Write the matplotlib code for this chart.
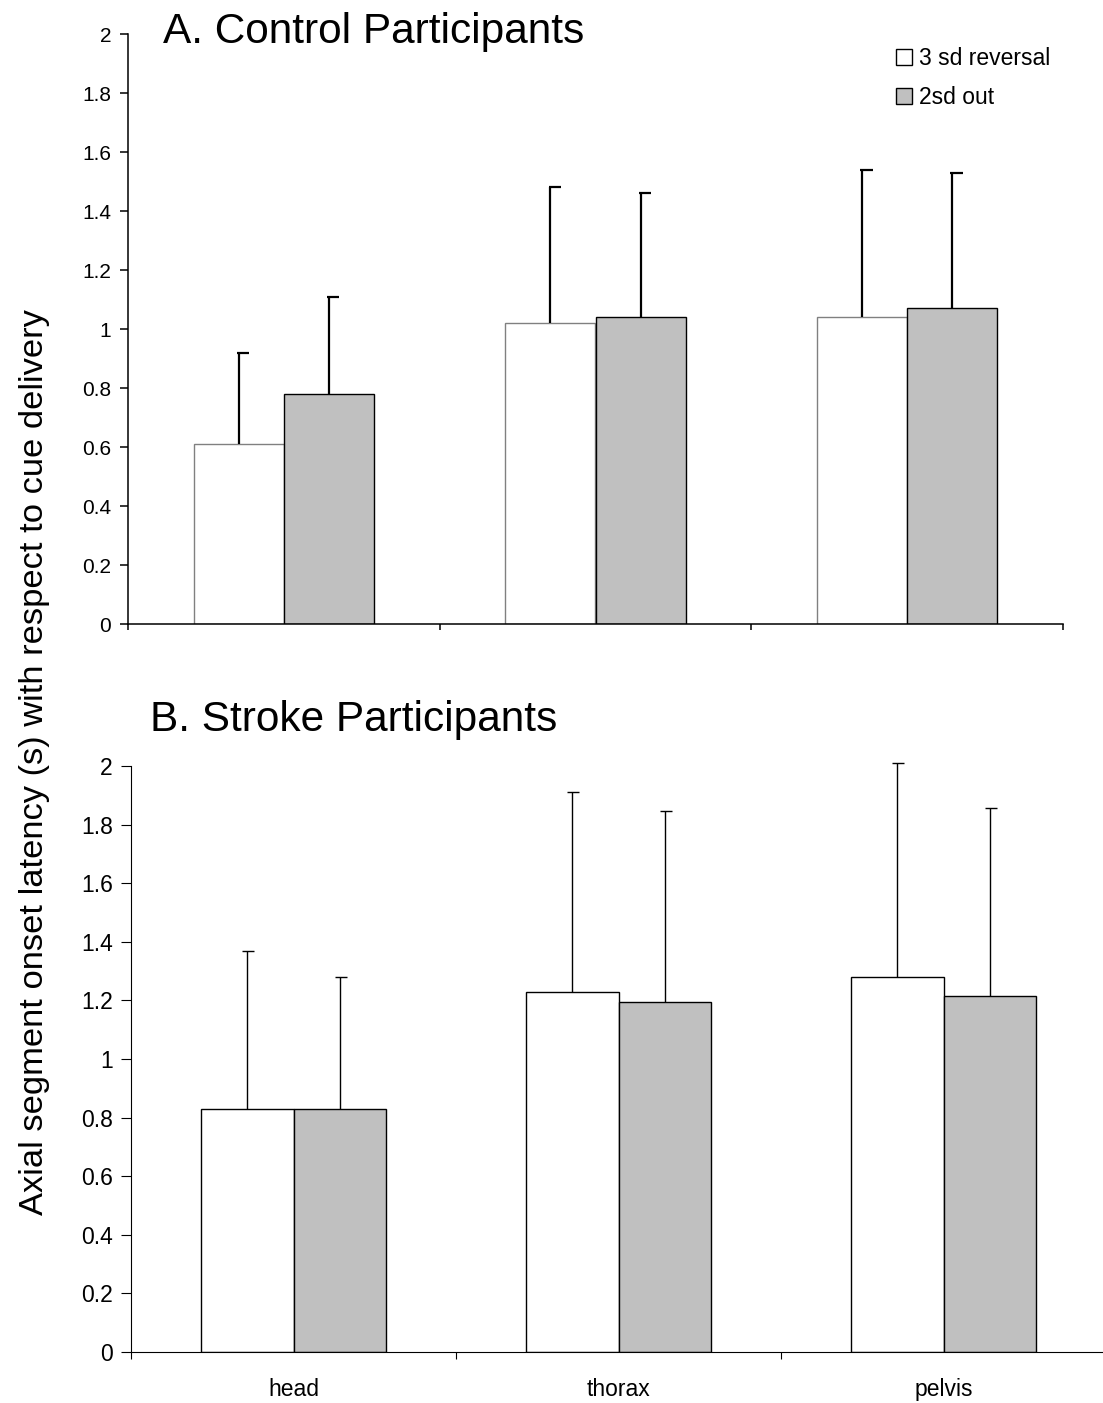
import matplotlib
matplotlib.use("Agg")
import matplotlib.pyplot as plt
from matplotlib.patches import Patch
import numpy as np

plt.rcParams["font.family"] = ["Liberation Sans", "DejaVu Sans"]

SEGMENTS = ["head", "thorax", "pelvis"]
SERIES = ["3 sd reversal", "2sd out"]

# mean onset latency (s) and SD, control group
CTRL_REVERSAL = [0.61, 1.02, 1.04]
CTRL_REVERSAL_SD = [0.31, 0.46, 0.50]
CTRL_OUT = [0.78, 1.04, 1.07]
CTRL_OUT_SD = [0.33, 0.42, 0.46]

# stroke group
STROKE_REVERSAL = [0.83, 1.23, 1.28]
STROKE_REVERSAL_SD = [0.54, 0.68, 0.73]
STROKE_OUT = [0.83, 1.195, 1.215]
STROKE_OUT_SD = [0.45, 0.65, 0.64]

Y_TICKS = [0, 0.2, 0.4, 0.6, 0.8, 1, 1.2, 1.4, 1.6, 1.8, 2]
Y_TICK_LABELS = ["0", "0.2", "0.4", "0.6", "0.8", "1", "1.2", "1.4", "1.6", "1.8", "2"]

WHITE = "white"
GREY = "#c0c0c0"

W, H = 1103, 1403
fig = plt.figure(figsize=(W / 100, H / 100), dpi=100)


def box(x0, x1, y0, y1):
    return [x0 / W, 1 - y1 / H, (x1 - x0) / W, (y1 - y0) / H]


def style_axes(ax, lw, fs, tick_len):
    ax.set_xlim(0, 3)
    ax.set_ylim(0, 2)
    for s in ["top", "right"]:
        ax.spines[s].set_visible(False)
    for s in ["left", "bottom"]:
        ax.spines[s].set_linewidth(lw)
        ax.spines[s].set_clip_on(False)
    ax.set_yticks(Y_TICKS)
    ax.set_yticklabels(Y_TICK_LABELS, fontsize=fs)
    ax.set_xticks([0, 1, 2, 3])
    ax.set_xticklabels([])
    ax.tick_params(axis="both", which="major", width=lw, length=tick_len, pad=6)
    ax.tick_params(axis="x", which="major", length=tick_len * 0.75)
    ax.set_facecolor("none")


def upper_errors(ax, xs, vals, sds, lw, left, right):
    tops = np.array(vals) + np.array(sds)
    ax.vlines(xs, vals, tops, color="black", linewidth=lw, zorder=3, clip_on=False)
    ax.hlines(tops, xs - left, xs + right, color="black", linewidth=lw, zorder=3, clip_on=False)


# ── A. Control participants ──────────────────────────────────────────────
ax1 = fig.add_axes(box(128, 1063, 34, 624))
style_axes(ax1, 1.1, 15, 6)
x = np.arange(3) + 0.5
bw = 0.289
ax1.bar(x - bw / 2, CTRL_REVERSAL, bw, color=WHITE, edgecolor="#808080", linewidth=1.0, zorder=2)
ax1.bar(x + bw / 2, CTRL_OUT, bw, color=GREY, edgecolor="black", linewidth=1.0, zorder=2)
# half caps, drawn to the right of the error line
upper_errors(ax1, x - bw / 2, CTRL_REVERSAL, CTRL_REVERSAL_SD, 1.6, 0.006, 0.034)
upper_errors(ax1, x + bw / 2, CTRL_OUT, CTRL_OUT_SD, 1.6, 0.006, 0.034)

ax1.legend(handles=[Patch(facecolor=WHITE, edgecolor="black", label=SERIES[0]),
                    Patch(facecolor=GREY, edgecolor="black", label=SERIES[1])],
           loc="upper left", bbox_to_anchor=(896 / W, 1 - 47 / H), bbox_transform=fig.transFigure,
           frameon=False, fontsize=16.5, handlelength=0.7, handleheight=0.7,
           handletextpad=0.3, labelspacing=0.68, borderpad=0, borderaxespad=0)

fig.text(163 / W, 1 - 43 / H, "A. Control Participants", fontsize=30.5, va="baseline", ha="left")

# ── B. Stroke participants ───────────────────────────────────────────────
ax2 = fig.add_axes(box(131, 1106, 766, 1352))
style_axes(ax2, 0.8, 16.5, 7)
bw2 = 0.286
ax2.bar(x - bw2 / 2, STROKE_REVERSAL, bw2, color=WHITE, edgecolor="black", linewidth=1.0, zorder=2)
ax2.bar(x + bw2 / 2, STROKE_OUT, bw2, color=GREY, edgecolor="black", linewidth=1.0, zorder=2)
upper_errors(ax2, x - bw2 / 2, STROKE_REVERSAL, STROKE_REVERSAL_SD, 1.0, 0.016, 0.022)
upper_errors(ax2, x + bw2 / 2, STROKE_OUT, STROKE_OUT_SD, 1.0, 0.016, 0.022)

ax2.set_xticks(x, minor=True)
ax2.set_xticklabels(SEGMENTS, minor=True, fontsize=16.5)
ax2.tick_params(axis="x", which="minor", length=0, pad=19)

fig.text(150 / W, 1 - 731 / H, "B. Stroke Participants", fontsize=30.5, va="baseline", ha="left")

fig.text(35 / W, 1 - 762 / H, "Axial segment onset latency (s) with respect to cue delivery",
         rotation=90, fontsize=24.8, va="center", ha="center")

fig.savefig("out.png", dpi=100)
